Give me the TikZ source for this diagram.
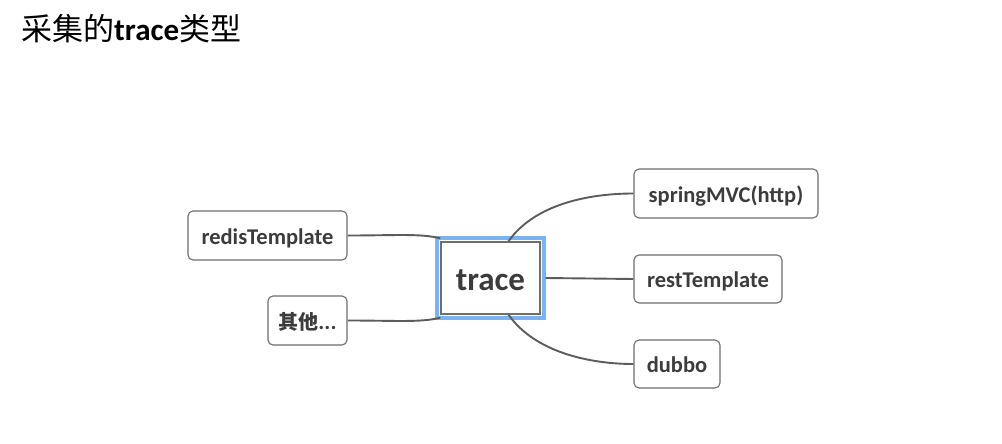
\documentclass[tikz,border=0pt]{standalone}
\usepackage{fontspec}
\setmainfont{Carlito}
\newfontfamily\cjk{Noto Sans CJK SC}
\definecolor{txt}{HTML}{3C3C3C}
\definecolor{ln}{HTML}{5C5C5C}
\definecolor{bd}{HTML}{6E6E6E}
\definecolor{sel}{HTML}{7AB2F2}
\begin{document}
\begin{tikzpicture}[x=1pt,y=-1pt,
  leaf/.style={draw=bd,line width=1.1pt,rounded corners=5pt,inner sep=0pt,
    text height=20pt,text depth=3pt,
    text=txt,font=\fontsize{22.5}{26}\selectfont\bfseries},
  conn/.style={draw=ln,line width=1.9pt}]
\useasboundingbox[fill=white] (0,0) rectangle (1002,444);
\node[anchor=base west,inner sep=0pt,font=\fontsize{31}{35}\selectfont] (title) at (21,41)
  {{\cjk 采集的}\textbf{trace}{\cjk 类型}};
% centre
\node[draw=sel,line width=3.2pt,minimum width=107pt,minimum height=80pt,inner sep=0pt] (sel) at (490.5,278) {};
\node[draw=bd,line width=1.4pt,minimum width=99pt,minimum height=72pt,inner sep=0pt,
  text height=24pt,text depth=0pt,
  text=txt,font=\fontsize{33}{38}\selectfont\bfseries] (c) at (490.5,278) {trace};
% leaves
\node[leaf,minimum width=159pt,minimum height=49pt] (redis) at (267.5,235.5) {redisTemplate};
\node[leaf,minimum width=79pt,minimum height=49pt] (other) at (307.5,320.5) {{\cjk\bfseries\fontsize{20}{24}\selectfont 其他}...};
\node[leaf,minimum width=184pt,minimum height=49pt] (spring) at (726,193.5) {springMVC(http)};
\node[leaf,minimum width=148pt,minimum height=48pt] (rest) at (708,279) {restTemplate};
\node[leaf,minimum width=86pt,minimum height=48pt] (dubbo) at (677,364) {dubbo};
% connectors
\draw[conn] ([xshift=18pt]c.north) .. controls +(26,-37) and +(-45,0) .. (spring.west);
\draw[conn] ([xshift=18pt]c.south) .. controls +(26,37) and +(-45,0) .. (dubbo.west);
\draw[conn] (sel.east) -- (rest.west);
\draw[conn] (redis.east) .. controls +(48,0) and +(-20,-5) .. ([yshift=3pt]c.north west);
\draw[conn] (other.east) .. controls +(48,0) and +(-20,5) .. ([yshift=-3pt]c.south west);
\end{tikzpicture}
\end{document}
